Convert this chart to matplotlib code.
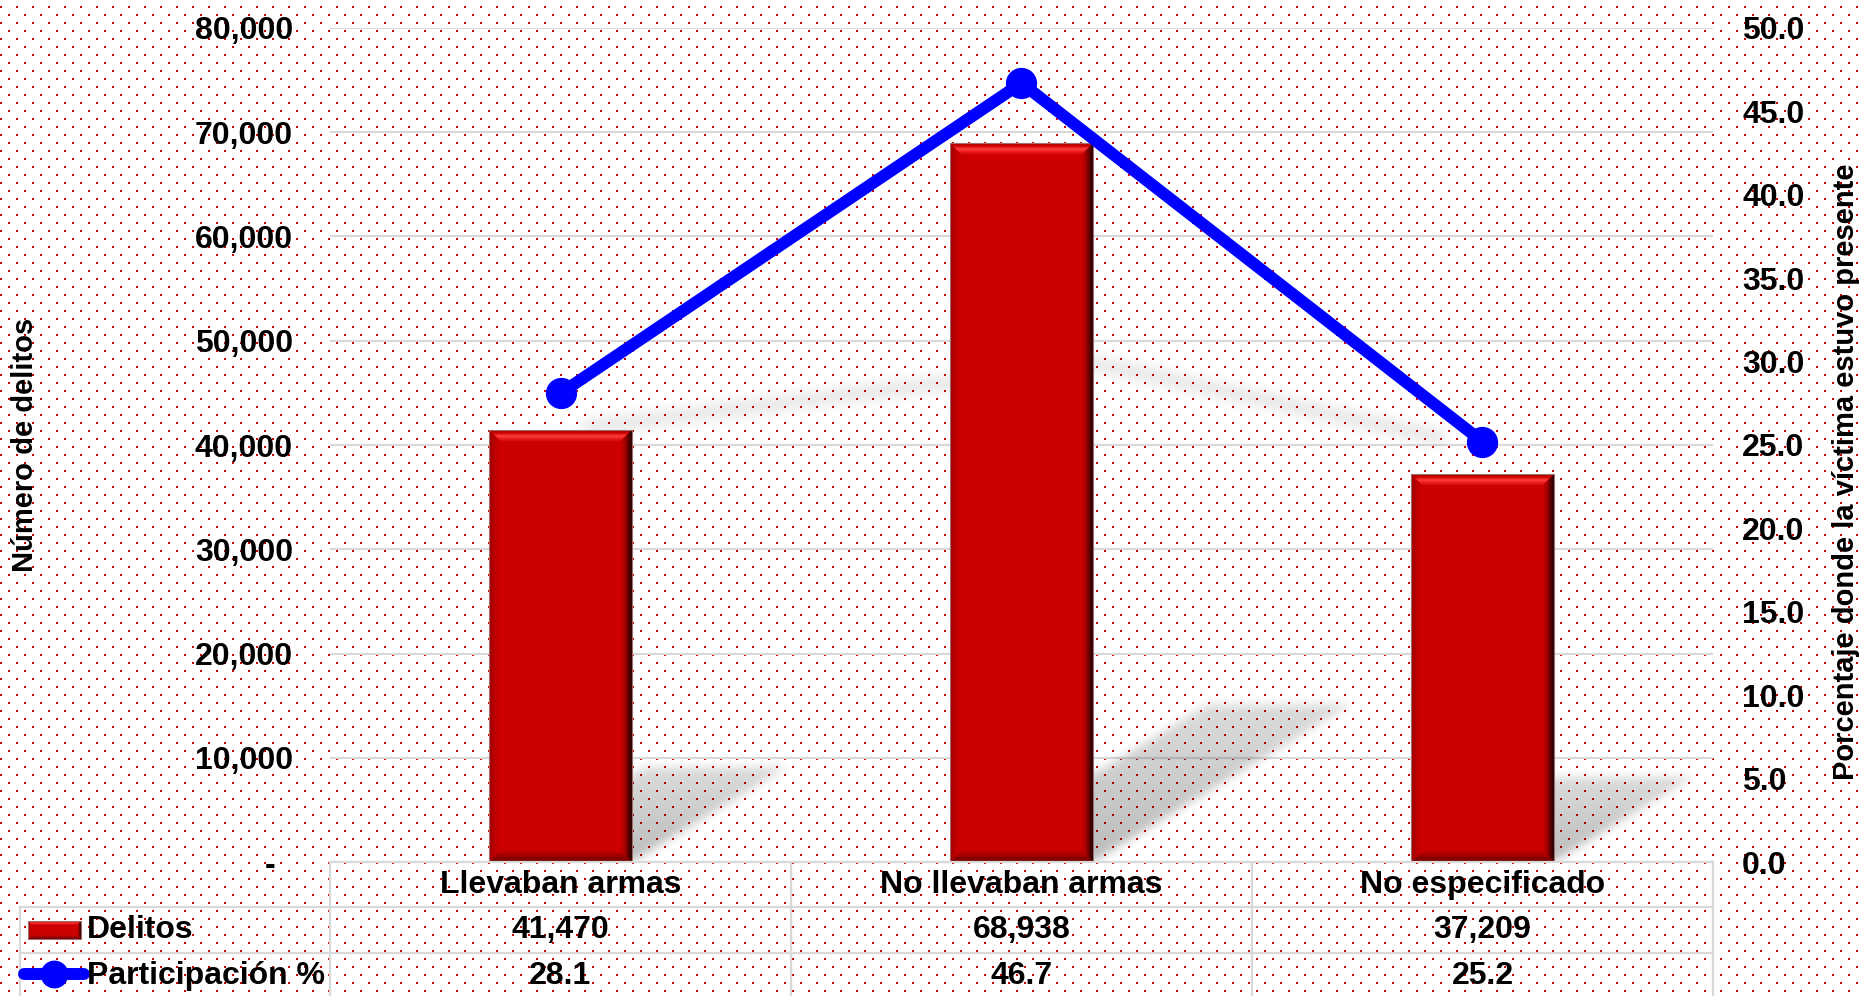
import numpy as np
import matplotlib
matplotlib.use('Agg')
import matplotlib.pyplot as plt
from matplotlib.patches import Polygon, Rectangle
from matplotlib.colors import LinearSegmentedColormap

# data
categories = ['Llevaban armas', 'No llevaban armas', 'No especificado']
delitos = [41470, 68938, 37209]
participacion = [28.1, 46.7, 25.2]
left_ticks = [0, 10000, 20000, 30000, 40000, 50000, 60000, 70000, 80000]
right_ticks = [0, 5, 10, 15, 20, 25, 30, 35, 40, 45, 50]

plt.rcParams['font.family'] = ['Liberation Sans', 'DejaVu Sans']
plt.rcParams['font.weight'] = 'bold'
FS = 23

W_FIG, H_FIG = 1865, 996
fig = plt.figure(figsize=(W_FIG / 100, H_FIG / 100), dpi=100)
fig.patch.set_facecolor('white')

# dotted background pattern
bg = np.full((H_FIG, W_FIG, 3), 255, np.uint8)
for y0, x0 in [(6, 0), (14, 8)]:
    for dy in (0, 1):
        for dx in (0, 1):
            bg[y0 + dy::16, x0 + dx::16] = (204, 0, 0)
fig.figimage(bg, 0, 0, zorder=-10, origin='upper')

# plot area (pixels)
L, R, T, B = 330, 1713, 28, 862
W, H = R - L, B - T
ax = fig.add_axes([L / W_FIG, 1 - B / H_FIG, W / W_FIG, H / H_FIG])
ax.set_facecolor('none')
ymax_l, ymax_r = 80000, 50

for v in left_ticks[1:]:
    ax.axhline(v, color='#d9d9d9', lw=1.5, zorder=1)


def blur(a, r, passes=3):
    n0, n1 = a.shape
    for _ in range(passes):
        c = np.cumsum(np.pad(a, [(r + 1, r), (0, 0)]), axis=0)
        a = (c[2 * r + 1:2 * r + 1 + n0] - c[:n0]) / (2 * r + 1)
        c = np.cumsum(np.pad(a, [(0, 0), (r + 1, r)]), axis=1)
        a = (c[:, 2 * r + 1:2 * r + 1 + n1] - c[:, :n1]) / (2 * r + 1)
    return a


# soft shadows (bars + line), computed in axes pixel space
bar_w = 0.31
X, HUP = np.meshgrid(np.arange(W) + 0.5, H - (np.arange(H) + 0.5))
alpha = np.zeros((H, W))
for i, v in enumerate(delitos):
    cx = (i + 0.5) * W / 3
    hw = bar_w / 2 * W / 3
    bh = v / ymax_l * H
    hs, sh = 0.22 * bh, 0.36 * bh
    t = HUP / hs
    inside = (t >= 0) & (t <= 1) & (X >= cx - hw + sh * t) & (X <= cx + hw + sh * t)
    alpha = np.maximum(alpha, inside * (0.27 - 0.13 * np.clip(t, 0, 1)))
alpha = blur(alpha, 4)

sx = [((0.935 * i + 0.06 + 0.009 * (p - 28)) + 0.5) * W / 3 for i, p in enumerate(participacion)]
sy = [(0.204 * p + 20.27) / ymax_r * H for p in participacion]
dist = np.full((H, W), 1e9)
for k in range(len(sx) - 1):
    ax_, ay_, bx_, by_ = sx[k], sy[k], sx[k + 1], sy[k + 1]
    dx, dy = bx_ - ax_, by_ - ay_
    u = np.clip(((X - ax_) * dx + (HUP - ay_) * dy) / (dx * dx + dy * dy), 0, 1)
    dist = np.minimum(dist, np.hypot(X - ax_ - u * dx, HUP - ay_ - u * dy))
line_alpha = blur((dist < 8) * 0.09, 5)
alpha = np.maximum(alpha, line_alpha)

shadow = np.zeros((H, W, 4))
shadow[..., 3] = alpha
ax.imshow(shadow, extent=(-0.5, 2.5, 0, ymax_l), origin='upper', aspect='auto',
          zorder=1.5, interpolation='nearest')


def grad_fill(a, pts, extent, colors, horizontal, z):
    poly = Polygon(pts, closed=True, facecolor='none', edgecolor='none', transform=a.transData)
    a.add_patch(poly)
    cmap = LinearSegmentedColormap.from_list('g', colors)
    g = np.linspace(0, 1, 64)
    arr = g[None, :] if horizontal else g[:, None]
    im = a.imshow(arr, cmap=cmap, extent=extent, aspect='auto', origin='lower',
                  zorder=z, interpolation='bilinear')
    im.set_clip_path(poly)


def bevel_bar(a, x0, x1, y0, y1, bx, by, z):
    a.add_patch(Rectangle((x0, y0), x1 - x0, y1 - y0, facecolor='#cc0000', edgecolor='none', zorder=z))
    grad_fill(a, [(x0, y1), (x1, y1), (x1 - bx, y1 - by), (x0 + bx, y1 - by)],
              (x0, x1, y1 - by, y1), ['#cc0000', '#e81818', '#ff4040', '#d00000', '#a00000'], False, z + 0.01)
    grad_fill(a, [(x0, y0), (x1, y0), (x1 - bx, y0 + by), (x0 + bx, y0 + by)],
              (x0, x1, y0, y0 + by), ['#6e0000', '#9a0000', '#cc0000'], False, z + 0.01)
    grad_fill(a, [(x0, y0), (x0, y1), (x0 + bx, y1 - by), (x0 + bx, y0 + by)],
              (x0, x0 + bx, y0, y1), ['#9a0000', '#c00000', '#cc0000'], True, z + 0.02)
    grad_fill(a, [(x1, y0), (x1, y1), (x1 - bx, y1 - by), (x1 - bx, y0 + by)],
              (x1 - bx, x1, y0, y1), ['#cc0000', '#b00000', '#6a0000', '#1a0000'], True, z + 0.02)
    a.add_patch(Rectangle((x0, y0), x1 - x0, y1 - y0, facecolor='none', edgecolor='#a07070',
                          lw=0.8, zorder=z + 0.05))


bx_d = 12 / (W / 3)
by_d = 12 / (H / ymax_l)
for i, v in enumerate(delitos):
    bevel_bar(ax, i - bar_w / 2, i + bar_w / 2, 0, v, bx_d, by_d, 2)

ax.set_xlim(-0.5, 2.5)
ax.set_ylim(0, ymax_l)
ax.set_xticks([])
ax.set_yticks(left_ticks)
ax.set_yticklabels(['-  ' if v == 0 else f'{v:,}' for v in left_ticks], fontsize=FS, fontweight='bold')
ax.tick_params(axis='y', length=0, pad=26.6)

ax2 = ax.twinx()
ax2.plot(range(len(participacion)), participacion, color='#0000ff', lw=8.6, marker='o', ms=21.5,
         solid_capstyle='round', solid_joinstyle='round', zorder=3)
ax2.set_xlim(-0.5, 2.5)
ax2.set_ylim(0, ymax_r)
ax2.set_yticks(right_ticks)
ax2.set_yticklabels([f'{v:.1f}' for v in right_ticks], fontsize=FS, fontweight='bold')
ax2.tick_params(axis='y', length=0, pad=21.0)
for a in (ax, ax2):
    for s in a.spines.values():
        s.set_visible(False)

fig.text(25 / W_FIG, 1 - 445 / H_FIG, 'Número de delitos', rotation=90, ha='center', va='center',
         fontsize=21, fontweight='bold')
fig.text(1846 / W_FIG, 1 - 472 / H_FIG, 'Porcentaje donde la víctima estuvo presente', rotation=90,
         ha='center', va='center', fontsize=21, fontweight='bold')

# data table under the plot
ov = fig.add_axes([0, 0, 1, 1])
ov.axis('off')
ov.set_zorder(5)
col_x = [ax.transData.transform((i - 0.5, 0))[0] for i in range(len(categories) + 1)]
Y = lambda y: H_FIG - y
rows = [862, 907, 953, 998]
gc = '#d9d9d9'
ov.plot([col_x[0], col_x[-1]], [Y(rows[0])] * 2, color=gc, lw=1.6)
for r in rows[1:]:
    ov.plot([20, col_x[-1]], [Y(r)] * 2, color=gc, lw=1.6)
ov.plot([20, 20], [Y(rows[1]), Y(rows[-1])], color=gc, lw=1.6)
for x in col_x:
    ov.plot([x, x], [Y(rows[0]), Y(rows[-1])], color=gc, lw=1.6)

centers = [(col_x[i] + col_x[i + 1]) / 2 for i in range(len(categories))]
for i, c in enumerate(centers):
    ov.text(c, Y(885), categories[i], ha='center', va='center', fontsize=FS, fontweight='bold')
    ov.text(c, Y(930), f'{delitos[i]:,}', ha='center', va='center', fontsize=FS, fontweight='bold')
    ov.text(c, Y(976), f'{participacion[i]:.1f}', ha='center', va='center', fontsize=FS, fontweight='bold')
ov.text(87, Y(930), 'Delitos', ha='left', va='center', fontsize=FS, fontweight='bold')
ov.text(87, Y(976), 'Participación %', ha='left', va='center', fontsize=FS, fontweight='bold')

bevel_bar(ov, 28, 81, Y(939), Y(921), 4, 4, 2)
ov.plot([24, 84], [Y(974)] * 2, color='#0000ff', lw=8.6, solid_capstyle='round')
ov.plot([54], [Y(974)], color='#0000ff', marker='o', ms=19)

ov.set_xlim(0, W_FIG)
ov.set_ylim(0, H_FIG)

fig.savefig('out.png', dpi=100)
